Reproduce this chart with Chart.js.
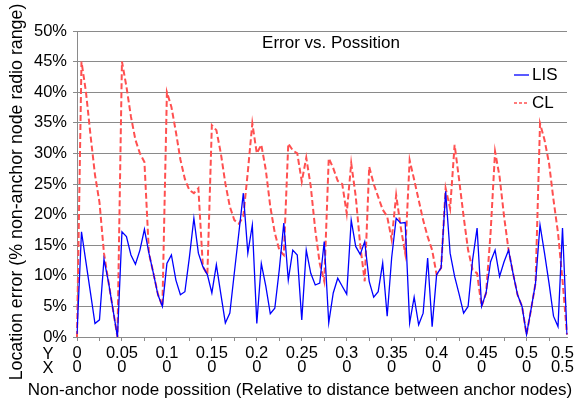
<!DOCTYPE html>
<html>
<head>
<meta charset="utf-8">
<script src="https://cdn.jsdelivr.net/npm/chart.js@4.4.1/dist/chart.umd.min.js"></script>
<style>
  html, body { margin: 0; padding: 0; background: #fff; }
  #wrap { width: 576px; height: 400px; }
</style>
</head>
<body>
<div id="wrap"><canvas id="chart" width="576" height="400"></canvas></div>
<script>
// Location error (% of non-anchor node radio range), one value per sampled position
const lisError = [
  0.5, 17.2, 12.2, 7.2, 2.2, 2.8, 12.7, 9, 4.5, 0,
  17.2, 16.4, 13.4, 11.9, 14.2, 17.6, 13.7, 10.4, 6.9, 5,
  12, 13.4, 9.3, 6.9, 7.4, 13, 19.4, 13.7, 11.5, 10.2,
  7.2, 11.8, 7, 2.3, 3.9, 10.5, 17, 23.5, 13.7, 18.3,
  2.2, 12, 8.3, 3.8, 4.7, 11, 18.6, 9.3, 14.2, 13.4,
  2.8, 14.2, 10.4, 8.5, 8.8, 15.6, 2.3, 7.2, 9.6, 8.3,
  7, 19.1, 14.8, 13.5, 15.6, 9.1, 6.5, 7.4, 12.1, 3.4,
  13, 19.4, 18.6, 18.7, 2.3, 6.5, 2.0, 3.9, 12.9, 1.7,
  10.2, 11.3, 23.8, 13.7, 9.9, 7, 3.9, 5, 12.6, 17.8,
  5, 7.2, 12.3, 14.2, 9.9, 12.3, 14.2, 10.4, 6.9, 5,
  0.4, 4.5, 8.8, 18.3, 13.7, 8.8, 3.4, 1.7, 17.8, 0.4
];
const clError = [
  0, 45, 40, 33, 26.5, 22, 13.7, 9, 4.5, 0,
  45, 40.9, 36, 32.2, 30, 28.6, 13.7, 10.4, 7, 5,
  40, 37.6, 33.5, 29, 25.8, 24, 23.5, 24.3, 11.5, 10.2,
  34.6, 33.8, 30, 25.1, 21.3, 19.1, 18.5, 19.7, 27, 34.9,
  30, 31.4, 27.3, 21.3, 17, 14.2, 13.4, 31.6, 30.5, 30,
  25.4, 29.3, 24.6, 17.5, 12, 9.1, 29.2, 27.6, 25.5, 25,
  20.2, 28.4, 23, 15, 9.1, 27.8, 25, 22.9, 20.8, 19.7,
  15.9, 23.2, 18, 13.7, 28.9, 25.7, 22.4, 19.1, 16.4, 14.2,
  10.2, 11.3, 24.3, 21, 31.4, 25.7, 19.7, 14.2, 11, 10.4,
  5, 7.2, 17, 30.3, 26.2, 19.7, 14.2, 10.4, 6.9, 5,
  0.4, 4.5, 8.8, 34.9, 32.2, 28.4, 22.4, 17, 9.3, 0.4
];

// labelled positions on the x axis (two rows: Y then X)
const labelIndex = [0, 10, 20, 30, 40, 50, 60, 70, 80, 90, 100, 109];
const yPosLabels = ['0', '0.05', '0.1', '0.15', '0.2', '0.25', '0.3', '0.35', '0.4', '0.45', '0.5', '0.5'];
const xPosLabels = ['0', '0', '0', '0', '0', '0', '0', '0', '0', '0', '0', '0.5'];
const seriesNames = ['LIS', 'CL'];

const chartTitle = 'Error vs. Possition';
const xTitle = 'Non-anchor node possition (Relative to distance between anchor nodes)';
const yTitle = 'Location error (% non-anchor node radio range)';

const FONT = '"Liberation Sans", Arial, sans-serif';
const gridGray = '#8a8a8a';

// title, legend, axis titles and the Y / X row names
const extraText = {
  id: 'extraText',
  afterDraw(chart) {
    const ctx = chart.ctx;
    ctx.save();
    ctx.fillStyle = '#000';
    ctx.textBaseline = 'middle';

    ctx.font = '17px ' + FONT;
    ctx.textAlign = 'center';
    ctx.fillText(chartTitle, 331, 43);

    // legend inside the plot
    chart.data.datasets.forEach((ds, i) => {
      const y = 75 + i * 28;
      ctx.save();
      ctx.strokeStyle = ds.borderColor;
      ctx.lineWidth = i === 0 ? 1.3 : 1.5;
      ctx.setLineDash(i === 0 ? [] : [3, 2]);
      ctx.beginPath();
      ctx.moveTo(514, y);
      ctx.lineTo(529, y);
      ctx.stroke();
      ctx.restore();
      ctx.textAlign = 'left';
      ctx.font = '17px ' + FONT;
      ctx.fillText(ds.label, 532, y);
    });

    ctx.font = '16.5px ' + FONT;
    ctx.textAlign = 'center';
    ctx.fillText('Y', 48, 354);
    ctx.fillText('X', 48, 368);

    ctx.font = '17px ' + FONT;
    ctx.fillText(xTitle, 300, 390);

    ctx.translate(17, 192);
    ctx.rotate(-Math.PI / 2);
    ctx.font = '17.8px ' + FONT;
    ctx.fillText(yTitle, 0, 0);
    ctx.restore();
  }
};

new Chart(document.getElementById('chart'), {
  type: 'line',
  data: {
    labels: lisError.map((v, i) => i),
    datasets: [
      {
        label: seriesNames[0],
        data: lisError,
        borderColor: '#0000ff',
        borderWidth: 1.3,
        pointRadius: 0,
        tension: 0
      },
      {
        label: seriesNames[1],
        data: clError,
        borderColor: '#ff5050',
        borderWidth: 2,
        borderDash: [6, 3],
        pointRadius: 0,
        tension: 0
      }
    ]
  },
  options: {
    responsive: false,
    animation: false,
    devicePixelRatio: 1,
    layout: { padding: { top: 31, right: 9, left: 0, bottom: 0 } },
    plugins: {
      legend: { display: false },
      title: { display: false },
      tooltip: { enabled: false }
    },
    scales: {
      x: {
        type: 'category',
        offset: false,
        afterFit: (s) => { s.height = 63; s.paddingLeft = 0; s.paddingRight = 0; },
        grid: {
          drawOnChartArea: false,
          drawTicks: true,
          tickLength: 4,
          tickColor: (c) => (c.index % 5 === 0 ? gridGray : 'rgba(0,0,0,0)')
        },
        border: { display: true, color: gridGray },
        ticks: {
          autoSkip: false,
          maxRotation: 0,
          minRotation: 0,
          padding: 5,
          color: '#000',
          font: { family: FONT, size: 16.5, lineHeight: 14.5 / 16.5 },
          callback: function (val, idx) {
            const k = labelIndex.indexOf(idx);
            if (k < 0) return '';
            // last label is pushed left so it stays on the page
            if (k === labelIndex.length - 1) return [yPosLabels[k] + '  ', xPosLabels[k] + '  '];
            return [yPosLabels[k], xPosLabels[k]];
          }
        }
      },
      y: {
        min: 0,
        max: 50,
        afterFit: (s) => { s.width = 77; },
        grid: { color: gridGray, tickLength: 4, tickColor: gridGray },
        border: { display: true, color: gridGray },
        ticks: {
          stepSize: 5,
          padding: 6,
          color: '#000',
          font: { family: FONT, size: 16.5 },
          callback: (v) => v + '%'
        }
      }
    }
  },
  plugins: [extraText]
});
</script>
</body>
</html>
